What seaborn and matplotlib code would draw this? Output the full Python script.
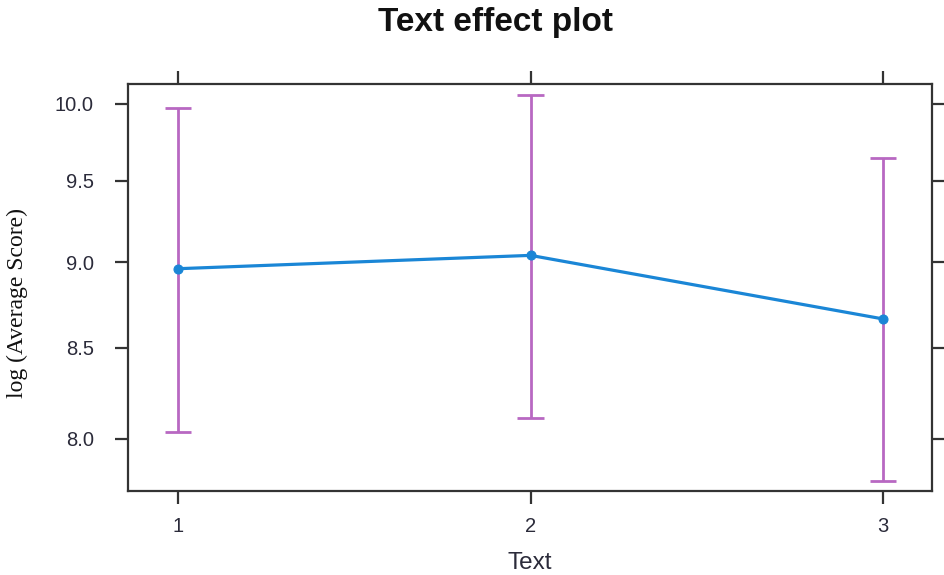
import matplotlib
matplotlib.use("Agg")
import matplotlib.pyplot as plt
import matplotlib.ticker as mticker
import seaborn as sns
import pandas as pd

# Estimated effect of Text on average score, with confidence limits
texts = [1, 2, 3]
fit = [8.96, 9.04, 8.665]
lower = [8.035, 8.11, 7.78]
upper = [9.975, 10.06, 9.645]
y_ticks = [8.0, 8.5, 9.0, 9.5, 10.0]

df = pd.DataFrame({"Text": texts, "fit": fit, "lower": lower, "upper": upper})

sns.set_theme(style="white")
plt.rcParams["font.family"] = ["Liberation Sans", "DejaVu Sans"]

fig = plt.figure(figsize=(9.44, 5.75), dpi=100)
ax = fig.add_axes([128 / 944, 1 - 491 / 575, (932 - 128) / 944, (491 - 84) / 575])

line_col = "#1a86d6"
bar_col = "#b868c2"
cap = 0.038

# confidence intervals
ax.vlines(df["Text"], df["lower"], df["upper"], color=bar_col, lw=2.0, zorder=2)
ax.hlines(df["upper"], df["Text"] - cap, df["Text"] + cap, color=bar_col, lw=2.0, zorder=2)
ax.hlines(df["lower"], df["Text"] - cap, df["Text"] + cap, color=bar_col, lw=2.0, zorder=2)

# fitted values
sns.lineplot(data=df, x="Text", y="fit", ax=ax, color=line_col, lw=2.3,
             marker="o", markersize=6.5, markerfacecolor=line_col,
             markeredgecolor=line_col, zorder=3)

ax.set_yscale("log")
ax.set_ylim(7.726, 10.134)
ax.set_xlim(0.858, 3.139)

ax.yaxis.set_major_locator(mticker.FixedLocator(y_ticks))
ax.yaxis.set_minor_locator(mticker.NullLocator())
ax.yaxis.set_major_formatter(mticker.FixedFormatter([f"{v:.1f}" for v in y_ticks]))
ax.xaxis.set_major_locator(mticker.FixedLocator(texts))
ax.xaxis.set_major_formatter(mticker.FixedFormatter([str(t) for t in texts]))

for s in ax.spines.values():
    s.set_color("#333333")
    s.set_linewidth(1.6)
    s.set_visible(True)

ax.tick_params(axis="both", which="major", direction="out", length=9.5, width=1.6,
               color="#333333", labelsize=14.5, labelcolor="#2b2b3a",
               bottom=True, top=True, left=True, right=True,
               labelbottom=True, labeltop=False, labelleft=True, labelright=False)
ax.tick_params(axis="y", pad=15)
ax.tick_params(axis="x", pad=9)

ax.set_xlabel("Text", fontsize=17.5, color="#2b2b3a", labelpad=12)
ax.set_ylabel("log (Average Score)", fontsize=17, family=["Liberation Serif", "DejaVu Serif"],
              color="#111111")
ax.yaxis.set_label_coords(-0.1244, 0.462)

fig.text(495 / 944, 1 - 22 / 575, "Text effect plot", ha="center", va="center",
         fontsize=24, fontweight="bold", color="#111111")

fig.savefig("out.png", dpi=100, facecolor="white")
